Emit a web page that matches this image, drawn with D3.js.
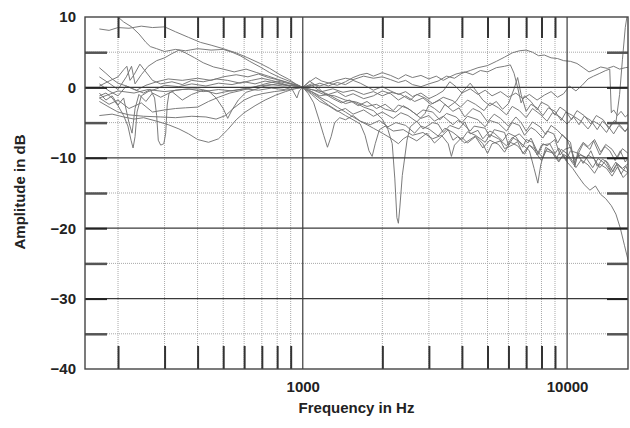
<!DOCTYPE html>
<html><head><meta charset="utf-8">
<script src="https://cdn.jsdelivr.net/npm/d3@7"></script>
<style>
body{margin:0;background:#fff;}
svg{display:block;font-family:"Liberation Sans",Arial,Helvetica,sans-serif;}
</style></head><body><svg id="c" width="630" height="428"></svg>
<script>
// Tick / grid values
const freqMinor=[200,300,400,500,600,700,800,900,2000,3000,4000,5000,6000,7000,8000,9000];
const freqMajor=[1000,10000];
const freqLabels=[1000,10000];
const dbMajor=[0,-10,-20,-30];
const dbMinor=[5,-5,-15,-25,-35];
const dbLabels=[10,0,-10,-20,-30,-40];

// Series: [frequency Hz, amplitude dB]
const s1=[[170,8.3],[185,8.1],[200,8.5],[220,8.4],[245,8.7],[270,8.5],[300,8.6],[330,7.9],[370,7.1],[410,6.4],[450,6.0],[500,5.5],[560,4.9],[620,4.2],[690,3.4],[750,2.7],[820,1.8],[880,1.2],[940,0.5],[1000,0],[1100,-0.4],[1200,-1.0],[1320,-1.2],[1450,-1.8],[1600,-2.1],[1750,-2.7],[1900,-2.4],[2050,-3.1],[2250,-3.5],[2400,-2.6],[2550,-3.2],[2800,-4.4],[3000,-4.0],[3150,-4.8],[3400,-4.1],[3700,-5.3],[3850,-4.7],[4000,-5.0],[4300,-6.2],[4450,-5.5],[4900,-5.8],[5100,-7.1],[5300,-6.0],[5800,-6.4],[6000,-8.2],[6300,-7.0],[6600,-6.6],[7100,-7.9],[7300,-7.2],[7800,-9.5],[8100,-8.0],[8400,-8.3],[9000,-7.4],[9400,-9.6],[9800,-8.8],[10300,-8.5],[10700,-10.3],[11200,-9.6],[11900,-10.0],[12300,-9.0],[13000,-11.2],[13600,-10.2],[14200,-10.6],[14900,-12.0],[15500,-10.8],[16200,-11.5],[17300,-10.6]];
const s2=[[170,11.8],[180,11.2],[190,10.6],[200,10.0],[210,9.3],[225,8.6],[240,7.6],[255,6.4],[265,5.8],[280,5.5],[300,5.1],[330,5.4],[360,5.2],[400,5.5],[450,5.3],[500,5.4],[540,5.0],[580,4.5],[630,3.7],[690,2.9],[750,2.1],[820,1.4],[900,0.8],[960,0.3],[1000,0],[1080,0.5],[1160,0.2],[1250,0.6],[1350,1.0],[1450,1.3],[1550,1.1],[1700,1.6],[1850,1.3],[2000,1.5],[2150,1.1],[2300,0.7],[2450,1.0],[2600,0.4],[2800,0.1],[3000,0.5],[3250,0.9],[3500,1.6],[3750,1.3],[4000,2.0],[4300,2.4],[4600,2.8],[5000,3.1],[5400,3.7],[5800,4.3],[6200,4.9],[6600,5.2],[7000,5.3],[7400,5.0],[7800,4.5],[8200,4.6],[8700,4.2],[9200,4.1],[9700,3.8],[10300,3.7],[10900,3.4],[11500,2.8],[12100,2.2],[12700,2.5],[13400,2.9],[14200,2.7],[15000,3.0],[15800,2.6],[16600,2.8],[17300,2.9]];
const s3=[[170,-1.2],[180,-0.8],[190,-1.5],[200,-2.6],[210,-4.0],[218,-5.5],[224,-7.5],[228,-8.6],[232,-7.0],[236,-3.5],[245,-1.2],[260,-0.6],[280,-0.2],[300,0.3],[340,0.1],[380,0.5],[430,0.2],[480,0.6],[540,0.4],[600,0.8],[660,0.5],[720,0.9],[800,0.6],[880,0.3],[940,0.4],[1000,0],[1060,0.8],[1120,1.4],[1180,0.9],[1260,0.6],[1350,0.3],[1450,0.8],[1550,1.4],[1650,1.8],[1750,2.0],[1850,1.6],[2000,2.1],[2150,1.7],[2300,1.2],[2450,1.8],[2600,1.4],[2800,1.7],[3000,1.2],[3200,1.6],[3400,1.0],[3600,1.5],[3800,1.9],[4100,2.2],[4400,1.8],[4700,2.4],[5000,2.2],[5400,2.8],[5800,3.0],[6100,3.2],[6300,2.0],[6500,0.0],[6700,-2.2],[6900,-1.2],[7300,-2.0],[7700,-3.2],[8000,-2.1],[8500,-2.6],[9000,-3.9],[9400,-2.8],[9900,-3.4],[10400,-4.6],[10900,-3.3],[11600,-4.0],[12300,-5.2],[12900,-4.0],[13700,-4.6],[14400,-5.9],[15100,-4.7],[15900,-5.4],[16600,-6.3],[17300,-5.2]];
const s4=[[170,0.5],[185,-0.5],[200,-1.2],[215,0.2],[230,-0.3],[250,-0.8],[265,-0.3],[275,-1.5],[280,-4.0],[284,-7.5],[290,-8.2],[298,-8.0],[303,-6.5],[307,-2.5],[312,-0.8],[330,-0.4],[370,-0.2],[420,-0.6],[480,-0.3],[540,-0.5],[600,-0.2],[680,-0.4],[760,-0.1],[850,-0.3],[930,0.1],[1000,0],[1080,-0.6],[1160,-1.2],[1250,-1.0],[1350,-1.7],[1450,-2.3],[1550,-2.0],[1700,-2.8],[1850,-3.3],[2000,-4.5],[2100,-6.0],[2180,-8.0],[2230,-13.0],[2270,-18.5],[2300,-19.3],[2330,-17.0],[2380,-12.5],[2430,-10.0],[2480,-7.5],[2550,-5.6],[2700,-4.8],[2850,-5.9],[3100,-5.0],[3250,-5.2],[3400,-6.4],[3600,-5.4],[3900,-5.9],[4100,-4.9],[4300,-6.6],[4600,-6.1],[4800,-7.3],[5100,-6.2],[5300,-6.5],[5700,-7.6],[6000,-6.5],[6400,-7.0],[6800,-8.5],[7000,-7.4],[7400,-7.8],[7700,-9.6],[8000,-8.2],[8600,-8.0],[9000,-9.4],[9300,-8.6],[9900,-10.4],[10300,-9.0],[10900,-9.3],[11500,-10.8],[12000,-9.6],[12700,-10.2],[13300,-11.4],[14000,-10.4],[14600,-11.8],[15300,-10.6],[16000,-12.3],[16700,-11.2],[17300,-12.6]];
const s5=[[170,-4.0],[190,-3.8],[210,-4.2],[230,-4.5],[250,-4.3],[280,-4.8],[310,-5.3],[340,-5.9],[370,-6.6],[400,-7.4],[440,-7.8],[480,-7.3],[520,-6.0],[560,-4.6],[600,-3.6],[660,-2.6],[720,-1.8],[790,-1.1],[860,-0.6],[930,-0.2],[1000,0],[1050,-0.9],[1100,-2.2],[1150,-4.5],[1200,-6.8],[1240,-8.5],[1280,-7.0],[1320,-5.0],[1380,-4.3],[1450,-4.6],[1550,-4.0],[1650,-4.8],[1800,-5.3],[1950,-4.7],[2100,-5.6],[2250,-5.0],[2450,-5.4],[2650,-6.5],[2800,-5.5],[3000,-5.9],[3250,-6.9],[3450,-5.8],[3700,-6.4],[4000,-7.4],[4200,-6.3],[4500,-6.8],[4900,-7.8],[5100,-6.7],[5500,-7.3],[5900,-8.3],[6200,-7.1],[6600,-7.7],[7000,-8.6],[7200,-9.0],[7500,-11.5],[7750,-13.6],[7950,-11.0],[8300,-8.5],[8700,-9.0],[9100,-10.1],[9500,-8.8],[10000,-9.4],[10600,-10.7],[11100,-9.4],[11800,-10.0],[12500,-11.4],[13100,-10.1],[13900,-10.8],[14700,-12.1],[15400,-10.9],[16200,-11.6],[17300,-12.3]];
const s6=[[170,-2.0],[185,-2.8],[200,-3.5],[220,-3.9],[250,-4.1],[290,-4.2],[330,-4.3],[380,-4.1],[430,-4.2],[470,-4.5],[510,-4.0],[550,-2.9],[600,-1.8],[650,-1.2],[700,-0.9],[780,-0.6],[860,-0.4],[930,-0.2],[1000,0],[1080,-0.8],[1160,-1.6],[1250,-2.5],[1350,-3.3],[1450,-4.0],[1550,-4.6],[1650,-5.2],[1720,-6.8],[1780,-9.0],[1830,-9.8],[1880,-8.0],[1950,-6.0],[2050,-5.5],[2200,-6.2],[2400,-6.0],[2600,-6.8],[2850,-6.4],[3100,-7.3],[3350,-6.8],[3550,-8.0],[3650,-9.8],[3750,-8.2],[4000,-7.1],[4200,-7.9],[4500,-7.0],[4800,-8.6],[5100,-7.5],[5500,-8.1],[5800,-9.2],[6100,-7.8],[6500,-8.3],[6900,-9.5],[7200,-8.2],[7600,-8.8],[8100,-10.0],[8400,-8.7],[8900,-9.3],[9300,-10.4],[9700,-9.6],[10000,-10.6],[10500,-11.5],[11000,-12.6],[11600,-13.8],[12200,-14.6],[12800,-14.0],[13400,-15.2],[14000,-15.8],[14700,-16.8],[15300,-18.0],[15900,-20.0],[16500,-22.5],[17000,-24.5],[17300,-25.0]];
const s7=[[170,2.8],[180,2.0],[190,1.2],[200,0.6],[215,0.2],[235,-0.4],[255,0.3],[280,0.8],[310,1.2],[350,1.0],[400,1.3],[450,1.0],[500,1.5],[560,1.8],[620,1.5],[680,1.9],[740,1.4],[800,1.1],[870,0.7],[940,0.3],[1000,0],[1080,-0.3],[1180,-0.6],[1300,-0.2],[1420,-0.7],[1550,-0.4],[1700,-1.0],[1850,-0.6],[2000,-1.2],[2150,-0.7],[2350,-1.0],[2550,-1.8],[2700,-1.0],[2900,-1.5],[3100,-2.3],[3400,-1.4],[3700,-1.9],[3950,-2.8],[4200,-1.8],[4500,-2.4],[4850,-3.3],[5100,-2.2],[5500,-2.9],[5900,-3.9],[6200,-2.7],[6600,-3.3],[7000,-4.3],[7400,-3.0],[7900,-3.8],[8400,-4.8],[8800,-3.6],[9400,-4.2],[10000,-5.2],[10600,-4.1],[11300,-4.8],[12000,-5.9],[12600,-4.8],[13400,-5.4],[14100,-6.4],[14700,-5.2],[15300,-5.0],[15800,-1.0],[16200,4.0],[16600,8.5],[17000,11.0],[17300,12.0]];
const s8=[[170,-0.8],[180,-1.8],[190,-1.2],[200,-2.5],[210,-1.5],[220,-5.0],[226,-6.5],[232,-3.0],[240,-1.0],[255,-2.0],[270,-0.8],[290,-1.4],[320,-0.6],[350,-1.8],[380,-1.0],[420,-0.4],[470,-0.9],[530,-0.5],[600,-0.2],[680,0.2],[760,0.4],[840,0.2],[920,0.3],[1000,0],[1080,-1.0],[1160,-2.0],[1250,-2.6],[1350,-3.4],[1450,-3.0],[1550,-3.8],[1700,-3.2],[1850,-4.1],[2000,-3.5],[2200,-4.4],[2350,-3.6],[2500,-4.0],[2700,-4.9],[2900,-3.7],[3000,-2.5],[3150,-3.0],[3300,-3.6],[3450,-2.4],[3700,-3.4],[3900,-2.9],[4100,-4.2],[4400,-3.0],[4700,-3.5],[5000,-4.9],[5300,-3.8],[5600,-4.4],[6000,-5.5],[6400,-4.2],[6700,-5.0],[7000,-6.2],[7400,-4.9],[7900,-5.6],[8300,-6.7],[8700,-5.4],[9200,-6.1],[9700,-7.0],[10300,-7.8],[10700,-11.3],[11000,-9.0],[11500,-7.8],[12000,-8.4],[12700,-7.4],[13400,-9.2],[14000,-8.1],[14800,-8.8],[15500,-10.0],[16200,-8.7],[17300,-9.6]];
const s9=[[170,1.5],[185,0.6],[200,-0.3],[215,1.5],[225,3.0],[232,0.5],[245,1.8],[260,3.0],[280,3.8],[300,4.2],[320,4.8],[340,5.3],[360,4.9],[390,4.2],[420,3.5],[460,2.9],[500,2.6],[550,2.2],[610,2.6],[670,2.1],[740,1.6],[810,1.1],[880,0.7],[940,0.3],[1000,0],[1080,0.3],[1160,-0.5],[1250,-1.0],[1350,-0.6],[1450,-1.3],[1550,-0.9],[1700,-1.6],[1850,-1.2],[2000,-0.5],[2150,-0.9],[2300,-1.8],[2450,-1.2],[2650,-2.0],[2850,-1.5],[3050,-2.4],[3300,-1.8],[3550,-2.8],[3800,-2.0],[4050,-0.5],[4300,0.6],[4550,-0.6],[4800,-1.8],[5100,-2.6],[5400,-2.0],[5700,-3.1],[6000,-2.3],[6300,-0.2],[6500,1.4],[6700,-1.0],[7000,-3.4],[7300,-2.4],[7700,-2.9],[8100,-4.0],[8500,-2.9],[9000,-3.4],[9500,-4.7],[9900,-3.5],[10500,-4.0],[11100,-5.3],[11600,-4.1],[12300,-4.7],[13000,-6.0],[13600,-4.8],[14300,-5.5],[15000,-6.6],[15700,-5.4],[16500,-6.2],[17300,-5.7]];
const s10=[[170,-1.5],[185,-2.4],[200,-1.8],[220,-3.0],[245,-2.2],[270,-3.5],[300,-3.2],[330,-3.0],[360,-2.9],[400,-2.8],[440,-2.0],[480,-1.4],[530,-0.8],[590,-0.4],[650,0.0],[720,0.5],[800,0.9],[870,0.6],[940,0.4],[1000,0],[1080,-0.6],[1160,-1.4],[1250,-2.0],[1350,-2.8],[1450,-3.5],[1550,-4.2],[1650,-4.8],[1750,-5.3],[1850,-5.8],[2000,-6.5],[2150,-7.2],[2300,-8.0],[2400,-7.3],[2500,-6.9],[2700,-7.6],[2950,-6.5],[3150,-7.9],[3300,-7.2],[3550,-6.0],[3700,-7.5],[3850,-7.0],[4100,-7.9],[4500,-6.9],[4800,-8.0],[5000,-9.4],[5200,-8.0],[5600,-7.6],[5800,-8.7],[6200,-8.2],[6500,-7.7],[6800,-9.4],[7200,-8.2],[7500,-8.9],[8000,-10.4],[8300,-9.0],[8800,-9.3],[9300,-10.6],[9700,-9.5],[10200,-10.1],[10800,-11.4],[11300,-10.3],[12000,-11.0],[12700,-12.2],[13300,-10.9],[14100,-11.5],[14800,-12.6],[15500,-11.3],[16300,-12.8],[17300,-11.8]];
const s11=[[170,-1.5],[185,-1.0],[200,-0.5],[230,-0.8],[260,-0.3],[300,-0.6],[350,-0.3],[400,-0.2],[440,-0.5],[470,-1.5],[500,-3.0],[520,-4.4],[540,-3.2],[570,-1.8],[610,-0.7],[660,-0.3],[720,0.2],[800,0.5],[880,0.3],[940,0.2],[1000,0],[1080,0.2],[1160,0.6],[1250,0.2],[1350,0.7],[1450,0.4],[1550,1.0],[1650,0.6],[1750,0.1],[1850,-0.4],[2000,0.1],[2150,-0.5],[2300,-1.0],[2450,-0.6],[2600,-1.3],[2800,-0.8],[3000,-1.6],[3200,-1.1],[3400,-0.5],[3600,0.8],[3800,0.1],[4000,-0.8],[4300,-0.2],[4600,-1.0],[4900,-0.4],[5200,-1.2],[5600,-0.6],[6000,-1.4],[6400,-0.8],[6800,-1.6],[7200,-1.0],[7700,-1.8],[8200,-1.1],[8700,-0.6],[9200,-1.4],[9700,-0.9],[10200,0.2],[10800,-0.5],[11400,0.3],[12000,1.2],[12600,1.6],[13300,2.0],[14000,2.4],[14500,2.6],[14700,-3.6],[15000,-3.2],[15500,-4.0],[16000,-3.4],[16600,-4.2],[17300,-3.6]];
const s12=[[170,0.2],[185,0.9],[200,1.5],[210,2.5],[216,3.0],[222,1.0],[230,1.8],[242,3.3],[255,2.2],[270,1.0],[290,0.5],[320,0.8],[350,0.4],[380,1.0],[420,0.8],[470,1.2],[520,1.0],[580,0.6],[640,1.0],[700,1.3],[760,1.0],[830,0.6],[900,0.1],[950,-1.5],[970,-0.5],[1000,0],[1060,0.9],[1120,0.3],[1200,-0.8],[1300,-1.6],[1400,-2.2],[1500,-1.8],[1620,-2.6],[1750,-2.0],[1900,-3.0],[2050,-2.4],[2200,-3.3],[2300,-2.5],[2500,-3.0],[2700,-3.9],[2850,-3.2],[3100,-3.5],[3300,-4.6],[3500,-3.7],[3800,-4.2],[4000,-5.0],[4200,-4.1],[4600,-4.6],[4900,-5.6],[5100,-4.7],[5500,-5.1],[5900,-6.2],[6200,-5.0],[6600,-5.4],[6900,-6.8],[7300,-5.7],[7600,-6.1],[8100,-7.2],[8400,-6.2],[8900,-6.6],[9200,-7.9],[9600,-6.7],[10000,-7.4],[10400,-9.0],[10700,-11.0],[11000,-9.5],[11500,-8.0],[12200,-8.8],[12600,-7.6],[13300,-9.6],[13900,-8.4],[14500,-9.0],[15200,-10.4],[15900,-9.0],[16600,-10.6],[17300,-9.6]];
const series=[s1,s2,s3,s4,s5,s6,s7,s8,s9,s10,s11,s12];

const L=85,R=628,T=17,B=369;
const svg=d3.select("#c");
const x=d3.scaleLog().domain([150,17000]).range([L,R]);
const y=d3.scaleLinear().domain([-40,10]).range([B,T]);

svg.append("defs").append("clipPath").attr("id","pa").append("rect")
  .attr("x",L).attr("y",T).attr("width",R-L).attr("height",B-T);

// minor grid
const grid=svg.append("g");
grid.selectAll(".vm").data(freqMinor).join("line")
  .attr("x1",d=>x(d)).attr("x2",d=>x(d)).attr("y1",T).attr("y2",B)
  .attr("stroke","#a9a9a9").attr("stroke-width",1).attr("stroke-dasharray","1,1");
grid.selectAll(".hm").data(dbMinor).join("line")
  .attr("x1",L).attr("x2",R).attr("y1",d=>y(d)).attr("y2",d=>y(d))
  .attr("stroke","#a9a9a9").attr("stroke-width",1).attr("stroke-dasharray","1,1");

// curves
const line=d3.line().x(d=>x(d[0])).y(d=>y(d[1]));
svg.append("g").attr("clip-path","url(#pa)")
  .selectAll("path").data(series).join("path")
  .attr("d",line).attr("fill","none").attr("stroke","#747474")
  .attr("stroke-width",0.95).attr("stroke-linejoin","round");

// major grid
const maj=svg.append("g");
maj.selectAll(".vM").data(freqMajor).join("line")
  .attr("x1",d=>x(d)).attr("x2",d=>x(d)).attr("y1",T).attr("y2",B)
  .attr("stroke","#3a3a3a").attr("stroke-width",1.2);
maj.selectAll(".hM").data(dbMajor).join("line")
  .attr("x1",L).attr("x2",R).attr("y1",d=>y(d)).attr("y2",d=>y(d))
  .attr("stroke","#3a3a3a").attr("stroke-width",1.2);

// tick marks via axes
function styleTicks(g,col,w){g.select(".domain").remove();g.selectAll(".tick line").attr("stroke",col).attr("stroke-width",w);g.selectAll(".tick text").remove();}
svg.append("g").attr("transform",`translate(0,${T})`)
  .call(d3.axisTop(x).tickValues(freqMinor).tickSize(-21)).call(g=>styleTicks(g,"#333",2));
svg.append("g").attr("transform",`translate(0,${B})`)
  .call(d3.axisBottom(x).tickValues(freqMinor).tickSize(-23)).call(g=>styleTicks(g,"#333",2));
svg.append("g").attr("transform",`translate(${L},0)`)
  .call(d3.axisLeft(y).tickValues(dbMinor).tickSize(-22)).call(g=>styleTicks(g,"#555",2.5));
svg.append("g").attr("transform",`translate(${L},0)`)
  .call(d3.axisLeft(y).tickValues(dbMajor).tickSize(-22)).call(g=>styleTicks(g,"#222",2));
svg.append("g").attr("transform",`translate(${R},0)`)
  .call(d3.axisRight(y).tickValues(dbMinor).tickSize(-21)).call(g=>styleTicks(g,"#555",2.5));
svg.append("g").attr("transform",`translate(${R},0)`)
  .call(d3.axisRight(y).tickValues(dbMajor).tickSize(-21)).call(g=>styleTicks(g,"#222",2));

// frame
svg.append("rect").attr("x",L).attr("y",T).attr("width",R-L).attr("height",B-T)
  .attr("fill","none").attr("stroke","#444").attr("stroke-width",1.4);

// labels
const xl=svg.append("g").attr("transform",`translate(0,${B})`)
  .call(d3.axisBottom(x).tickValues(freqLabels).tickSize(0).tickPadding(12).tickFormat(d3.format("d")));
xl.select(".domain").remove();
xl.selectAll("text").attr("font-size",15).attr("font-weight","bold").attr("fill","#222")
  .attr("font-family","'Liberation Sans',Arial,sans-serif");
const yl=svg.append("g").attr("transform",`translate(${L},0)`)
  .call(d3.axisLeft(y).tickValues(dbLabels).tickSize(0).tickPadding(9));
yl.select(".domain").remove();
yl.selectAll("text").attr("font-size",15).attr("font-weight","bold").attr("fill","#222")
  .attr("font-family","'Liberation Sans',Arial,sans-serif");

svg.append("text").attr("x",(L+R)/2).attr("y",413).attr("text-anchor","middle")
  .attr("font-size",15).attr("font-weight","bold").attr("fill","#222").text("Frequency in Hz");
svg.append("text").attr("transform","translate(25,192) rotate(-90)").attr("text-anchor","middle")
  .attr("font-size",15).attr("font-weight","bold").attr("fill","#222").text("Amplitude in dB");
</script></body></html>
